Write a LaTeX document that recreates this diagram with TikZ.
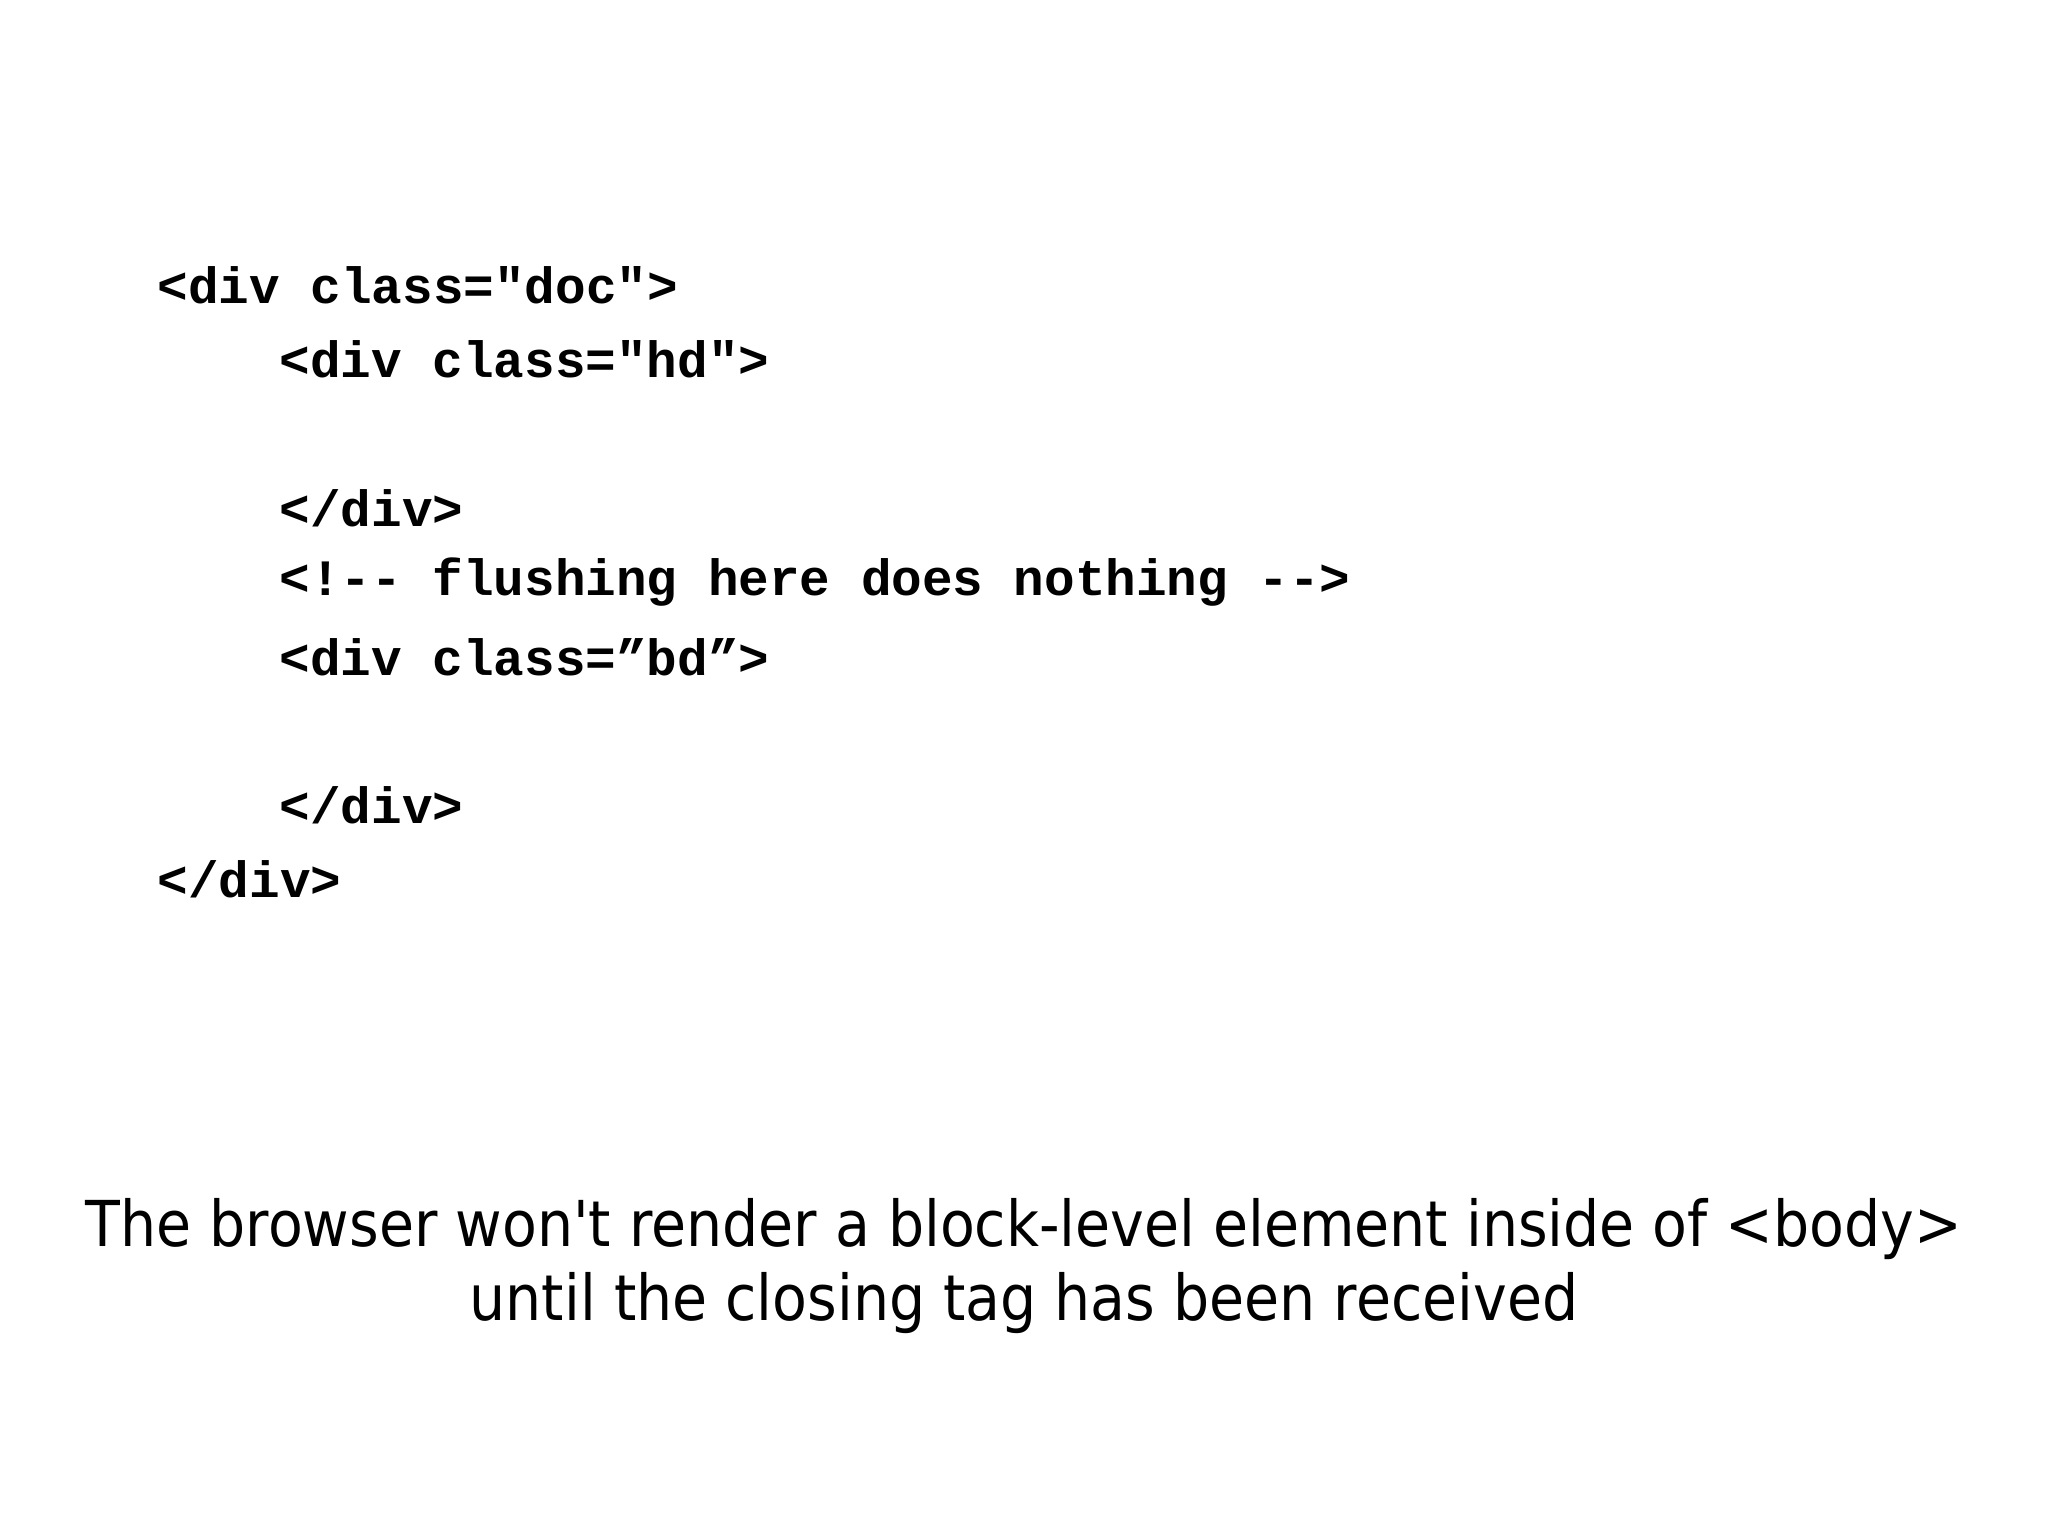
\documentclass[tikz,border=0pt]{standalone}
\usepackage{fontspec}
\newfontfamily\codefont{Liberation Mono}
\newfontfamily\capfont{DejaVu Sans Condensed}
\begin{document}
\begin{tikzpicture}[x=0.01cm,y=-0.01cm,
  code/.style={anchor=west,inner sep=0,font=\codefont\fontsize{14.5}{17}\selectfont\bfseries},
  captext/.style={inner sep=0,align=center,font=\capfont\fontsize{18}{21.3}\selectfont}]
\useasboundingbox (0,0) rectangle (2048,1536);
\node[code] (l1) at (157,285) {<div class="doc">};
\node[code] (l2) at (279,359) {<div class="hd">};
\node[code] (l3) at (279,508) {</div>};
\node[code] (l4) at (279,582) {<!-- flushing here does nothing -->};
\node[code] (l5) at (279,657) {<div class=”bd”>};
\node[code] (l6) at (279,805) {</div>};
\node[code] (l7) at (157,879) {</div>};
\node[captext] (c) at (1024,1266) {The browser won't render a block-level element inside of <body>\\until the closing tag has been received};
\end{tikzpicture}
\end{document}
